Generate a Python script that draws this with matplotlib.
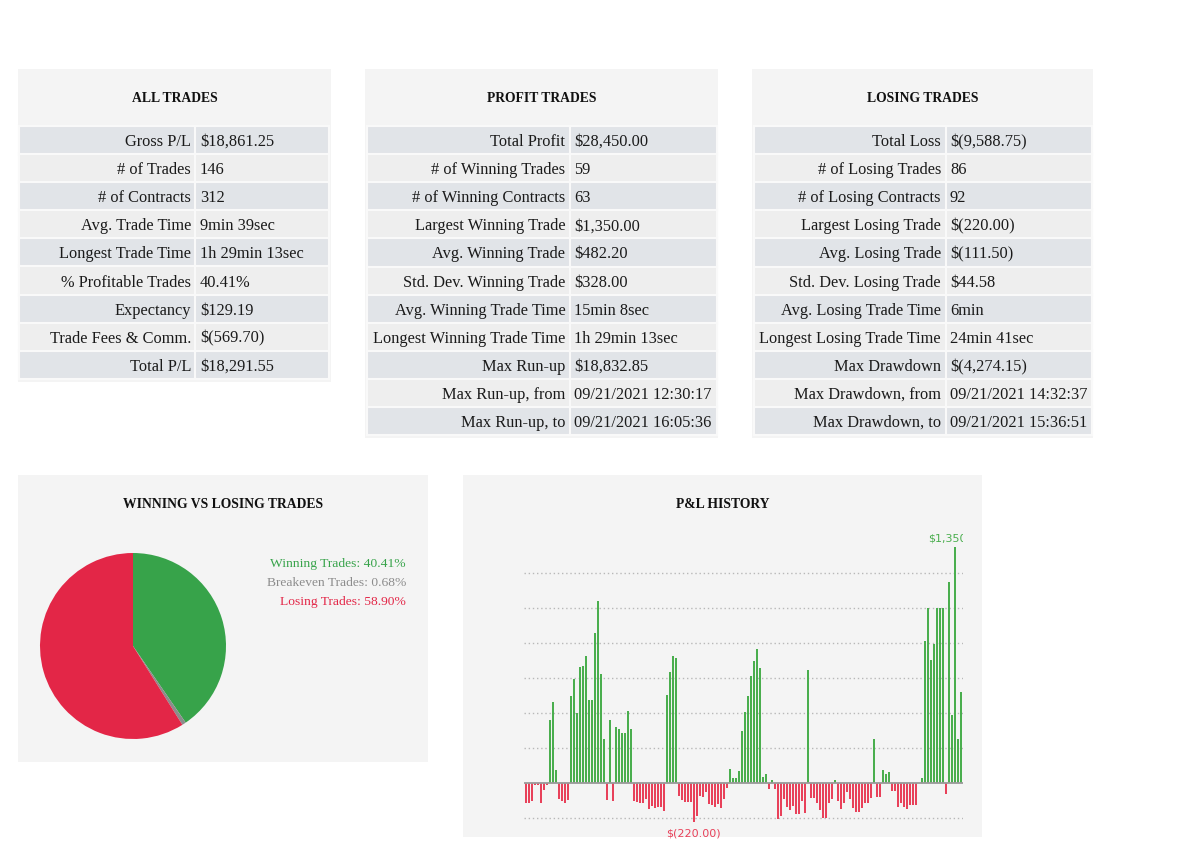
import numpy as np
import matplotlib
matplotlib.use("Agg")
import matplotlib.pyplot as plt

W, H = 1191, 841

# --- data ---
all_labels = ['Gross P/L', '# of Trades', '# of Contracts', 'Avg. Trade Time',
              'Longest Trade Time', '% Profitable Trades', 'Expectancy',
              'Trade Fees & Comm.', 'Total P/L']
all_values = ['$18,861.25', '146', '312', '9min 39sec', '1h 29min 13sec',
              '40.41%', '$129.19', '$(569.70)', '$18,291.55']

profit_labels = ['Total Profit', '# of Winning Trades', '# of Winning Contracts',
                 'Largest Winning Trade', 'Avg. Winning Trade', 'Std. Dev. Winning Trade',
                 'Avg. Winning Trade Time', 'Longest Winning Trade Time', 'Max Run-up',
                 'Max Run-up, from', 'Max Run-up, to']
profit_values = ['$28,450.00', '59', '63', '$1,350.00', '$482.20', '$328.00',
                 '15min 8sec', '1h 29min 13sec', '$18,832.85',
                 '09/21/2021 12:30:17', '09/21/2021 16:05:36']

losing_labels = ['Total Loss', '# of Losing Trades', '# of Losing Contracts',
                 'Largest Losing Trade', 'Avg. Losing Trade', 'Std. Dev. Losing Trade',
                 'Avg. Losing Trade Time', 'Longest Losing Trade Time', 'Max Drawdown',
                 'Max Drawdown, from', 'Max Drawdown, to']
losing_values = ['$(9,588.75)', '86', '92', '$(220.00)', '$(111.50)', '$44.58',
                 '6min', '24min 41sec', '$(4,274.15)',
                 '09/21/2021 14:32:37', '09/21/2021 15:36:51']

pie_labels = ['Winning Trades', 'Breakeven Trades', 'Losing Trades']
pie_pct = [40.41, 0.68, 58.90]

# P&L per trade, in trade order
pnl = [-114, -114, -99, -10, -11, -114, -38, -10,
       361, 462, 76,
       -89, -99, -110, -95,
       500, 595, 401, 665, 671, 730, 475, 475, 861, 1039, 623, 255,
       -95, 361, -99,
       319, 310, 287, 287, 412, 310,
       -99, -105, -110, -110, -91, -148, -129, -143, -133, -133, -158,
       505, 635, 730, 716,
       -70, -95, -105, -105, -105, -220, -186, -70, -76, -48, -120, -125, -133,
       -118, -139, -87, -29,
       80, 30, 30, 70, 300, 405,
       500, 612, 699, 766, 661, 34, 53, -34, 19, -34,
       -205, -186, -87, -133, -152, -129, -175, -175, -99, -171,
       650,
       -86, -86, -110, -152, -200, -200, -110, -91,
       19,
       -99, -148, -114, -48, -87, -139, -163, -163, -139, -110, -110, -82,
       251, -76, -76, 76, 53, 65,
       -44, -44, -137, -110, -137, -148, -125, -125, -125,
       0, 30, 815, 1001, 703, 798, 1001, 1001, 1001, -63, 1150, 390, 1350, 251, 519]
grid_levels = [-200, 200, 400, 600, 800, 1000, 1200]

# --- styles ---
PANEL = '#f4f4f4'
DARK = '#e1e4e8'
LIGHT = '#eeeeee'
GAP = '#f9f9f9'
SERIF = 'Liberation Serif'
PIE_COLORS = ['#37a34a', '#8c8c8c', '#e32647']
BAR_GREEN = '#4aae4e'
BAR_RED = '#e8415a'

fig = plt.figure(figsize=(W / 100, H / 100), dpi=100)
fig.patch.set_facecolor('white')


def px_axes(x0, y0, x1, y1):
    return fig.add_axes([x0 / W, 1 - y1 / H, (x1 - x0) / W, (y1 - y0) / H])


def panel(x0, y0, x1, y1, title, title_y=97):
    ax = px_axes(x0, y0, x1, y1)
    ax.set_facecolor(PANEL)
    ax.set_xticks([])
    ax.set_yticks([])
    for s in ax.spines.values():
        s.set_visible(False)
    ax.set_xlim(x0, x1)
    ax.set_ylim(y1, y0)
    ax.text((x0 + x1) / 2, title_y, title, ha='center', va='center_baseline',
            fontsize=9.8, fontweight='bold', family=SERIF, color='#111111')
    return ax


def stats_table(ax, box, cells, labels, values, top=126, pitch=28.1):
    x0, y0, x1, y1 = box
    cx0, csplit, cx1 = cells
    n = len(labels)
    pw, ph = x1 - x0, y1 - y0
    bottom = top + pitch * n
    tb = ax.table(cellText=[[l, v] for l, v in zip(labels, values)],
                  colWidths=[csplit - cx0, cx1 - csplit],
                  bbox=[(cx0 - x0) / pw, (y1 - bottom) / ph, (cx1 - cx0) / pw, pitch * n / ph])
    tb.auto_set_font_size(False)
    tb.set_fontsize(11.8)
    for (r, c), cell in tb.get_celld().items():
        cell.set_facecolor(DARK if r % 2 == 0 else LIGHT)
        cell.set_edgecolor(GAP)
        cell.set_linewidth(1.5)
        w = (csplit - cx0) if c == 0 else (cx1 - csplit)
        cell.PAD = 4.5 / w
        t = cell.get_text()
        t.set_horizontalalignment('right' if c == 0 else 'left')
        t.set_verticalalignment('center_baseline')
        t.set_fontfamily(SERIF)
        t.set_color('#1a1a1a')


# --- stats tables ---
box = (18, 69, 331, 382)
ax1 = panel(*box, 'ALL TRADES')
stats_table(ax1, box, (19, 195.5, 329), all_labels, all_values)

box = (365, 69, 718, 438)
ax2 = panel(*box, 'PROFIT TRADES')
stats_table(ax2, box, (367, 570, 717), profit_labels, profit_values)

box = (752, 69, 1093, 438)
ax3 = panel(*box, 'LOSING TRADES')
stats_table(ax3, box, (754, 945.5, 1092), losing_labels, losing_values)

# --- pie panel ---
pp = panel(18, 475, 428, 762, 'WINNING VS LOSING TRADES', title_y=503)
for i, (lab, pct, col) in enumerate(zip(pie_labels, pie_pct, PIE_COLORS)):
    pp.text(406, 563 + 19 * i, f'{lab}: {pct:.2f}%', ha='right', va='center_baseline',
            fontsize=9.7, family=SERIF, color=col)

pax = px_axes(133 - 93, 646 - 93, 133 + 93, 646 + 93)
pax.pie(pie_pct, colors=PIE_COLORS, startangle=90, counterclock=False,
        wedgeprops=dict(linewidth=0))
pax.set_xlim(-1, 1)
pax.set_ylim(-1, 1)

# --- P&L history panel ---
panel(463, 475, 982, 837, 'P&L HISTORY', title_y=503)

bx = px_axes(524, 525, 963, 837)
bx.patch.set_alpha(0)
idx = np.arange(len(pnl))
vals = np.array(pnl)
bx.bar(idx, vals, width=0.65, color=[BAR_GREEN if v > 0 else BAR_RED for v in vals],
       linewidth=0, zorder=2)
bx.set_xlim(-0.57, len(pnl) - 0.23)
bx.set_ylim(-307, 1476)
bx.set_yticks(grid_levels)
bx.set_xticks([])
bx.yaxis.grid(True, linestyle=(0, (1, 2)), color='#b8b8b8', linewidth=1)
bx.set_axisbelow(True)
bx.tick_params(left=False, labelleft=False)
for s in bx.spines.values():
    s.set_visible(False)
bx.axhline(0, color='#9a9a9a', linewidth=1.3, zorder=3)

imax = int(np.argmax(vals))
imin = int(np.argmin(vals))
bx.annotate(f'${vals[imax]:,.0f}', (imax, vals[imax]), xytext=(-5, 2.5),
            textcoords='offset points', ha='center', va='bottom',
            color=BAR_GREEN, fontsize=8, clip_on=True)
bx.annotate(f'$({abs(vals[imin]):,.2f})', (imin, vals[imin]), xytext=(0, -4.5),
            textcoords='offset points', ha='center', va='top',
            color=BAR_RED, fontsize=8, annotation_clip=False)

fig.savefig('out.png', dpi=100)
